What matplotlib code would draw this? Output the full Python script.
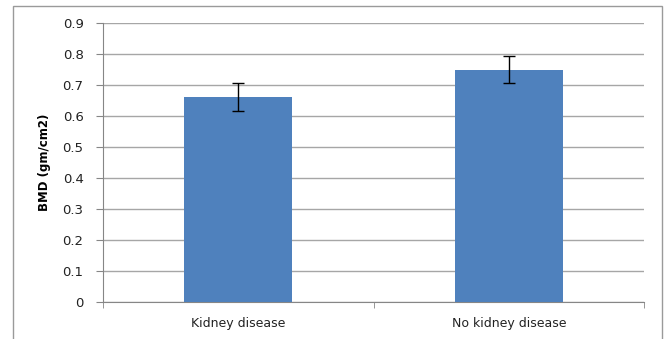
import numpy as np
import matplotlib.pyplot as plt
from matplotlib.patches import Rectangle

categories = ["Kidney disease", "No kidney disease"]
bmd = [0.66, 0.75]
err = [0.045, 0.045]
yticks = [0, 0.1, 0.2, 0.3, 0.4, 0.5, 0.6, 0.7, 0.8, 0.9]

fig = plt.figure(figsize=(6.65, 3.39), dpi=100)
# outer chart frame (bottom edge runs off the image)
fig.patches.append(Rectangle((13 / 665, -0.3), 649 / 665, 1.3 - 6 / 339,
                             transform=fig.transFigure, fill=False,
                             edgecolor="#9a9a9a", linewidth=1))
ax = fig.add_axes([103 / 665, 1 - 302 / 339, 541 / 665, 279 / 339])

x = np.arange(len(categories))
ax.bar(x, bmd, width=0.4, color="#4f81bd", zorder=3)
ax.errorbar(x, bmd, yerr=err, fmt="none", ecolor="black", elinewidth=1,
            capsize=4, capthick=1, zorder=4)

ax.set_xlim(-0.5, 1.5)
ax.set_ylim(0, 0.9)
ax.set_yticks(yticks)
ax.set_yticklabels([f"{v:g}" for v in yticks], fontsize=9.5, color="#222222")
ax.yaxis.grid(True, color="#a6a6a6", linewidth=1, zorder=0)
ax.set_xticks(x)
ax.set_xticklabels(categories, fontsize=9, color="#222222")
ax.set_xticks([-0.5, 0.5, 1.5], minor=True)
ax.tick_params(axis="x", which="major", length=0, pad=11)
ax.tick_params(axis="x", which="minor", length=4, color="#868686")
ax.tick_params(axis="y", length=5, color="#868686", pad=9)
ax.set_ylabel("BMD (gm/cm2)", fontsize=8.5, fontweight="bold")
ax.yaxis.set_label_coords(-0.097, 0.5)

for s in ["top", "right"]:
    ax.spines[s].set_visible(False)
for s in ["left", "bottom"]:
    ax.spines[s].set_color("#868686")

fig.savefig("out.png", dpi=100)
